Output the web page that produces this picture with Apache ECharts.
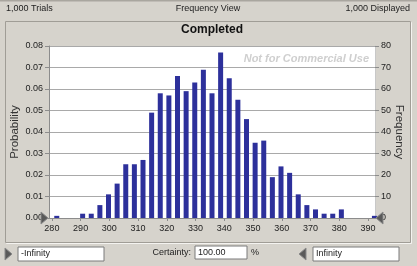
<!DOCTYPE html>
<html lang="en">
<head>
  <meta charset="UTF-8">
  <title>Frequency View</title>
  <script src="https://cdn.jsdelivr.net/npm/echarts@6/dist/echarts.min.js"></script>
  <style>
    html, body { margin: 0; padding: 0; background: #d6d3cc; }
  </style>
</head>
<body>
  <div id="chart" style="width:417px;height:266px"></div>
  <script>
    // bin centres (value) and trial counts per bin
    var binCenters = [281.7, 290.7, 293.7, 296.7, 299.7, 302.7, 305.7, 308.7, 311.7, 314.7,
      317.7, 320.7, 323.7, 326.7, 329.7, 332.7, 335.7, 338.7, 341.7, 344.7,
      347.7, 350.7, 353.7, 356.7, 359.7, 362.7, 365.7, 368.7, 371.7, 374.7,
      377.7, 380.7, 392.2]
    var counts = [1, 2, 2, 6, 11, 16, 25, 25, 27, 49,
      58, 57, 66, 59, 63, 69, 58, 77, 65, 55,
      46, 35, 36, 19, 24, 21, 11, 6, 4, 2,
      2, 4, 1]
    var xTicks = [280, 290, 300, 310, 320, 330, 340, 350, 360, 370, 380, 390]
    var trials = '1,000 Trials'
    var displayed = '1,000 Displayed'
    var viewName = 'Frequency View'
    var chartTitle = 'Completed'
    var lowerBound = '-Infinity'
    var upperBound = 'Infinity'
    var certainty = '100.00'

    var barData = []
    for (var i = 0; i < binCenters.length; i++) {
      barData.push([binCenters[i], counts[i]])
    }

    var font = 'Liberation Sans'
    var txt = '#222'
    var panel = '#d6d3cc'

    // little triangle markers like the ones on the grabbers
    function tri(x, y, dir) {
      var pts = dir > 0 ? [[x, y - 6], [x + 7, y], [x, y + 6]] : [[x + 7, y - 6], [x, y], [x + 7, y + 6]]
      return { type: 'polygon', z: 100, shape: { points: pts }, style: { fill: '#5a5a5a', stroke: '#8a8a8a', lineWidth: 1 } }
    }
    function box(x, y, w, h, label) {
      return [
        { type: 'rect', z: 50, shape: { x: x, y: y, width: w, height: h }, style: { fill: '#fff', stroke: '#7a7a7a', lineWidth: 1 } },
        { type: 'text', z: 51, x: x + 3, y: y + h / 2, style: { text: label, font: '9px ' + font, fill: txt, textVerticalAlign: 'middle' } }
      ]
    }

    var mCharts = echarts.init(document.getElementById('chart'))
    var graphics = [
      { type: 'line', z: 1, shape: { x1: 0, y1: 0.5, x2: 417, y2: 0.5 }, style: { stroke: '#a9a69f', lineWidth: 2 } },
      { type: 'text', x: 6, y: 9, style: { text: trials, font: '9px ' + font, fill: txt, textVerticalAlign: 'middle' } },
      { type: 'text', x: 208, y: 9, style: { text: viewName, font: '9px ' + font, fill: txt, textAlign: 'center', textVerticalAlign: 'middle' } },
      { type: 'text', x: 410, y: 9, style: { text: displayed, font: '9px ' + font, fill: txt, textAlign: 'right', textVerticalAlign: 'middle' } },
      // etched panel frame, filled with the panel grey
      { type: 'rect', z: -30, shape: { x: 6.5, y: 22.5, width: 405, height: 221 }, style: { fill: panel, stroke: '#f4f3f0', lineWidth: 1 } },
      { type: 'rect', z: -29, shape: { x: 5.5, y: 21.5, width: 405, height: 221 }, style: { fill: panel, stroke: '#a09d96', lineWidth: 1 } },
      // white plot background, same box as the grid below
      { type: 'rect', z: -10, shape: { x: 49, y: 46, width: 326, height: 172 }, style: { fill: '#fff' } },
      { type: 'text', x: 212, y: 30, style: { text: chartTitle, font: 'bold 12px ' + font, fill: '#111', textAlign: 'center', textVerticalAlign: 'middle' } },
      { type: 'text', z: 20, x: 369, y: 59, style: { text: 'Not for Commercial Use', font: 'italic bold 11px ' + font, fill: '#cfcfcf', textAlign: 'right', textVerticalAlign: 'middle' } },
      tri(41, 218, 1),
      tri(376, 218, -1),
      tri(5, 254, 1),
      { type: 'text', x: 191, y: 253, style: { text: 'Certainty:', font: '9px ' + font, fill: txt, textAlign: 'right', textVerticalAlign: 'middle' } },
      { type: 'text', x: 251, y: 253, style: { text: '%', font: '9px ' + font, fill: txt, textVerticalAlign: 'middle' } },
      tri(299, 254, -1)
    ]
    graphics = graphics.concat(box(18, 247, 86, 14, lowerBound), box(195, 246, 52, 13, certainty), box(313, 247, 86, 14, upperBound))

    var option = {
      animation: false,
      backgroundColor: panel,
      grid: { left: 49, right: 42, top: 46, bottom: 48, outerBoundsMode: 'none' },
      graphic: graphics,
      xAxis: {
        type: 'value',
        min: 279,
        max: 392.4,
        splitLine: { show: false },
        axisLine: { lineStyle: { color: '#8c8c8c' } },
        axisTick: { customValues: xTicks, length: 3, lineStyle: { color: '#8c8c8c' } },
        axisLabel: { customValues: xTicks, margin: 6, fontSize: 9, fontFamily: font, color: txt }
      },
      yAxis: [
        {
          type: 'value',
          min: 0,
          max: 0.08,
          interval: 0.01,
          name: 'Probability',
          nameLocation: 'middle',
          nameMoveOverlap: false,
          nameGap: 28,
          nameTextStyle: { fontSize: 11.5, fontFamily: font, color: '#333' },
          axisLine: { show: true, lineStyle: { color: '#8c8c8c' } },
          axisTick: { show: true, length: 4, lineStyle: { color: '#8c8c8c' } },
          splitLine: { lineStyle: { color: '#a9a9a9' } },
          axisLabel: { fontSize: 9, fontFamily: font, color: txt, margin: 6, formatter: function (v) { return v.toFixed(2) } }
        },
        {
          type: 'value',
          min: 0,
          max: 80,
          interval: 10,
          position: 'right',
          name: 'Frequency',
          nameLocation: 'middle',
          nameMoveOverlap: false,
          nameGap: 18,
          nameRotate: -90,
          nameTextStyle: { fontSize: 11.5, fontFamily: font, color: '#333' },
          axisLine: { show: true, lineStyle: { color: '#c8c8c8' } },
          axisTick: { show: true, length: 4, lineStyle: { color: '#8c8c8c' } },
          splitLine: { show: false },
          axisLabel: { fontSize: 9, fontFamily: font, color: txt, margin: 6 }
        }
      ],
      series: [
        {
          type: 'bar',
          yAxisIndex: 1,
          barWidth: 5,
          data: barData,
          itemStyle: { color: '#2d309b' }
        }
      ]
    }
    mCharts.setOption(option)
  </script>
</body>
</html>
